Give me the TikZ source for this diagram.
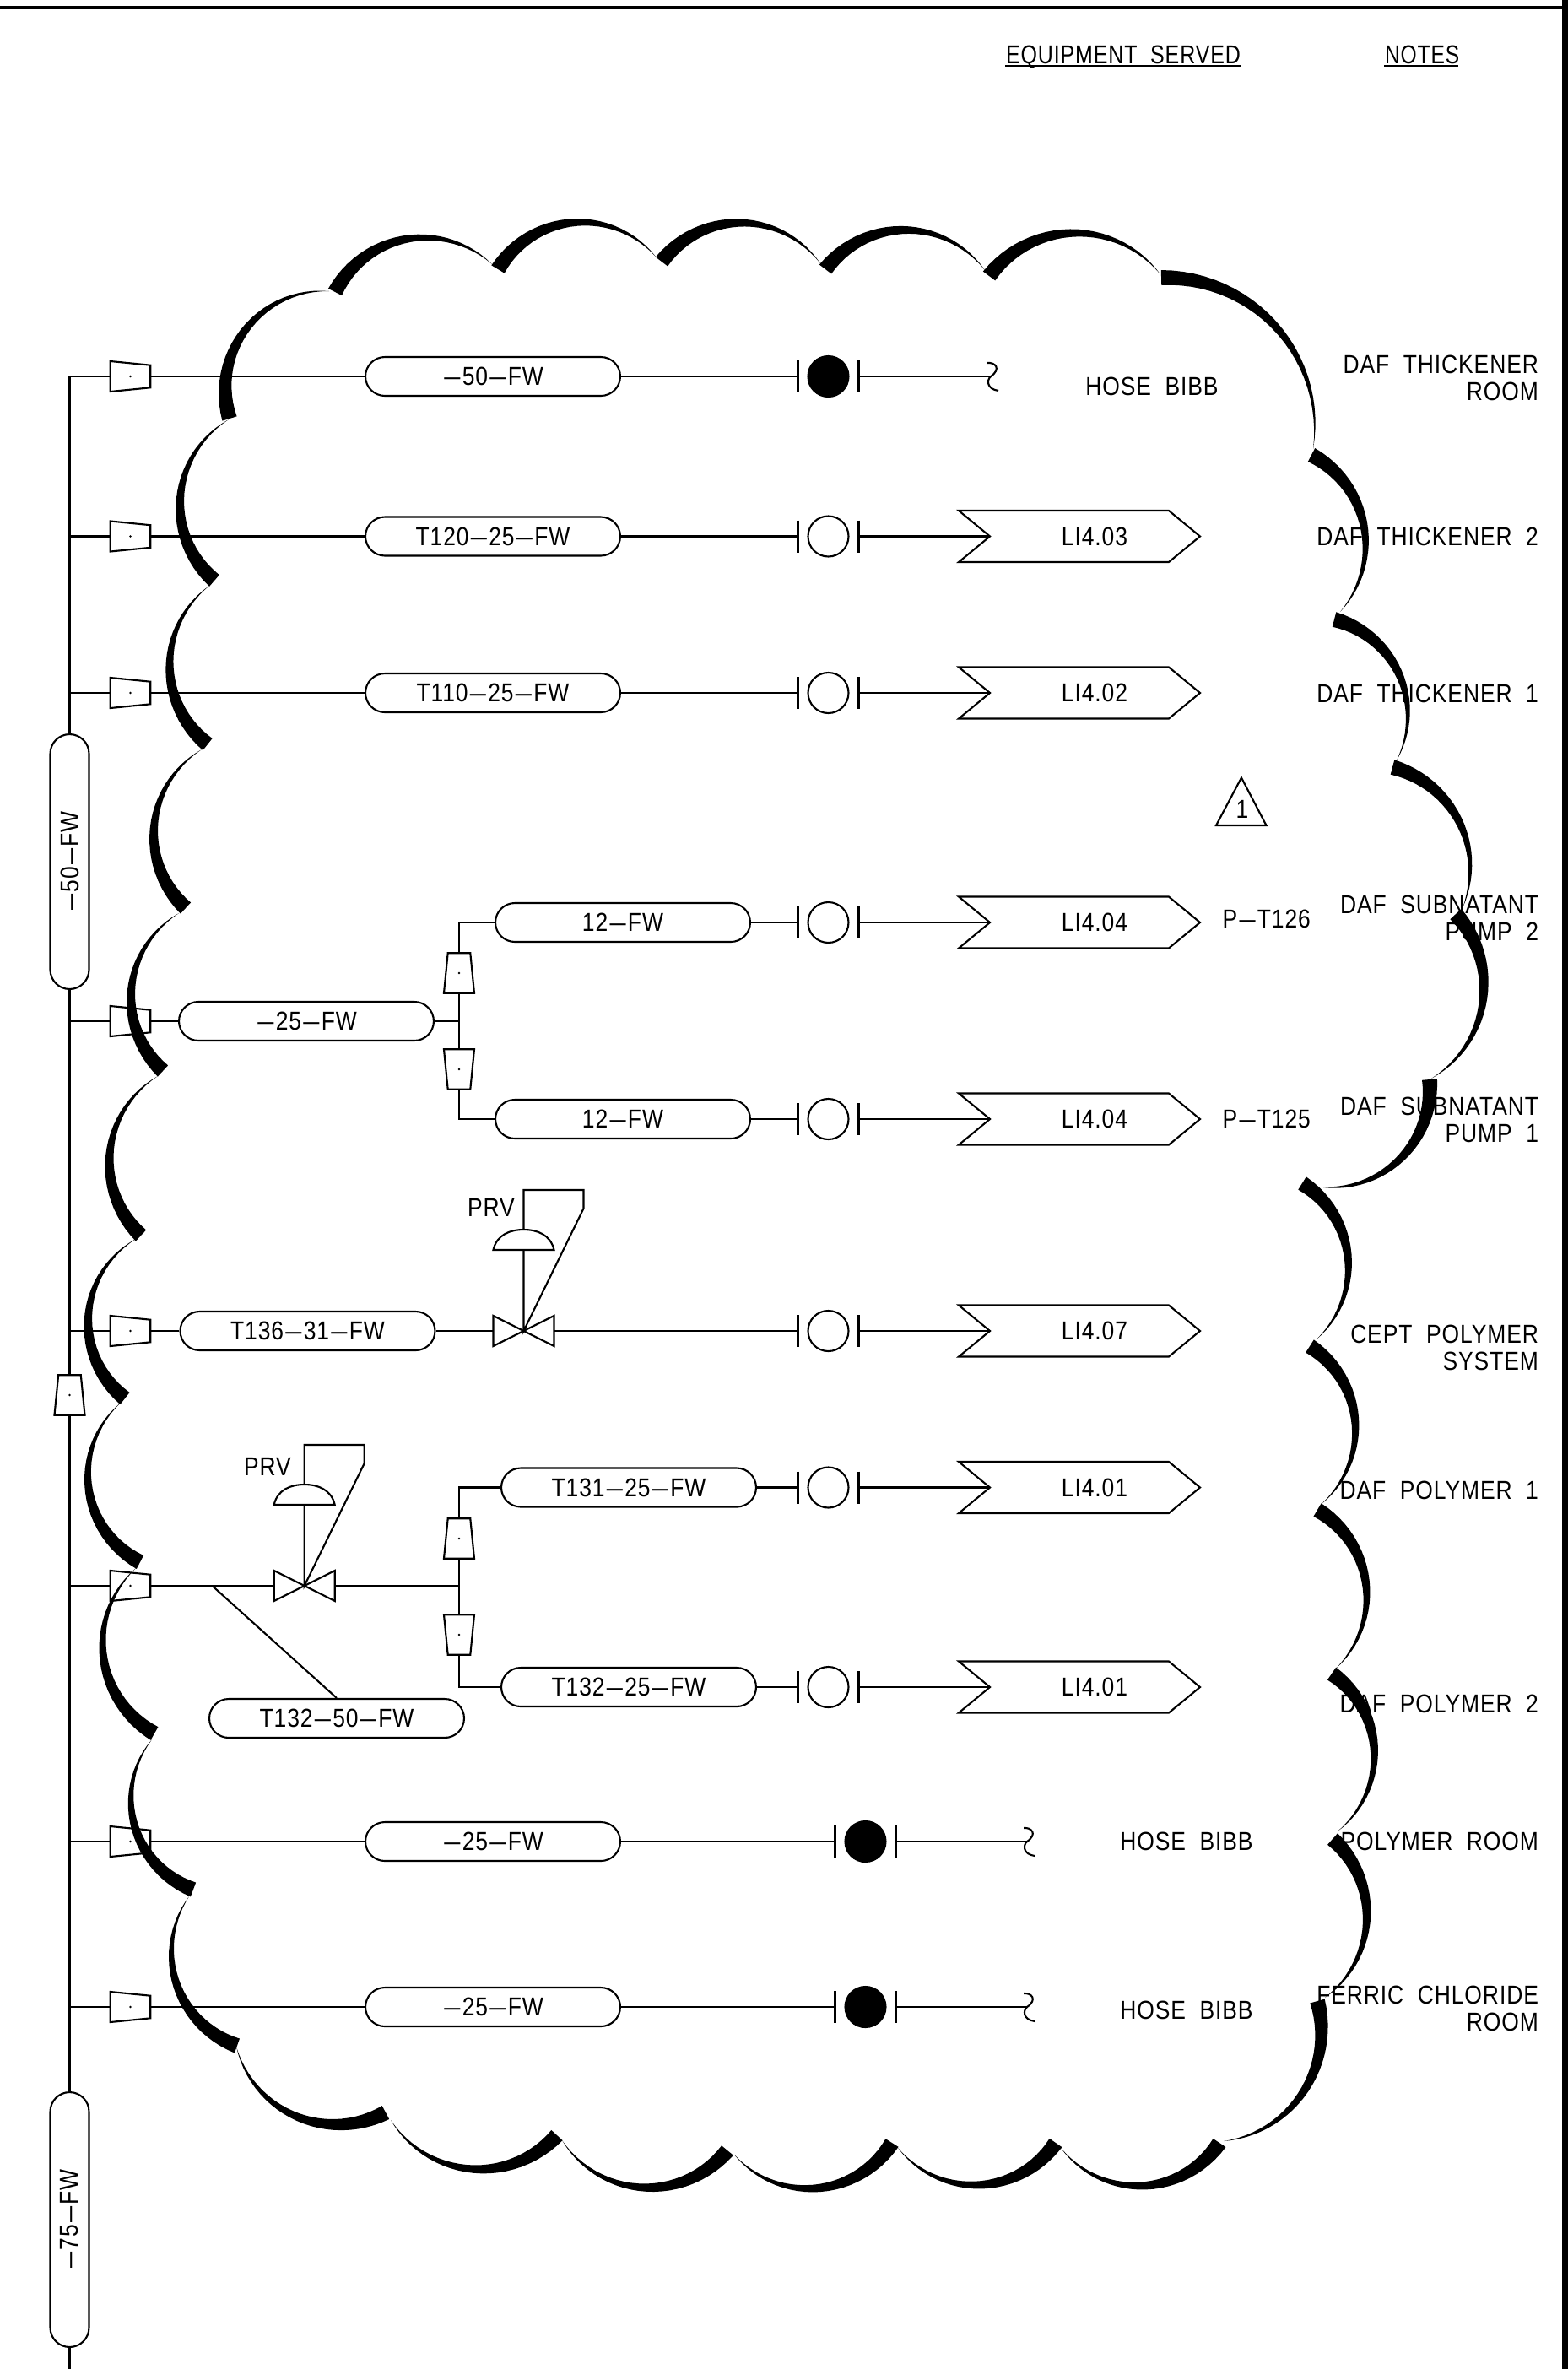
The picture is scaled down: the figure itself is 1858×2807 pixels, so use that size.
\documentclass[tikz,border=0pt]{standalone}
\usepackage{fontspec}
\setmainfont[FakeStretch=0.86,LetterSpace=3,WordSpace=2]{Liberation Sans}
\usetikzlibrary{shapes.misc,shapes.geometric,shapes.symbols,backgrounds,calc}
\newcommand\dd{\kern1.3pt\scalebox{1.3}[1]{–}\kern1.3pt}
\newcommand\cloudarc[5]{%
  \pgfmathsetmacro\cdx{#3-#1}\pgfmathsetmacro\cdy{#4-#2}%
  \pgfmathsetmacro\cL{veclen(\cdx,\cdy)}%
  \pgfmathsetmacro\cR{\cL/(2*#5)*(\cL/4)+#5/2}%
  \pgfmathsetmacro\cX{(#1+#3)/2+\cdy/\cL*(#5-\cR)}%
  \pgfmathsetmacro\cY{(#2+#4)/2-\cdx/\cL*(#5-\cR)}%
  \pgfmathsetmacro\cA{atan2(#2-\cY,#1-\cX)}%
  \pgfmathsetmacro\cB{atan2(#4-\cY,#3-\cX)}%
  \pgfmathsetmacro\cB{\cB<\cA ? \cB+360 : \cB}%
  \fill[black] plot[domain=0:1,samples=26,variable=\t]
      ({\cX+(\cR+9*(1-\t))*cos(\cA+\t*(\cB-\cA))},{\cY+(\cR+9*(1-\t))*sin(\cA+\t*(\cB-\cA))})
    -- plot[domain=1:0,samples=26,variable=\t]
      ({\cX+(\cR-9*(1-\t))*cos(\cA+\t*(\cB-\cA))},{\cY+(\cR-9*(1-\t))*sin(\cA+\t*(\cB-\cA))})
    -- cycle;%
}
% id, x, y, rotation
\newcommand\reducer[4]{%
  \node[reducerbox,rotate=#4] (#1) at (#2,#3) {\hspace*{1pt}\rule{0pt}{1pt}};
  \fill (#1.center) circle (1.3);
}
% id, cx, y, style
\newcommand\gauge[4]{%
  \node[#4] (#1) at (#2,#3) {};
  \coordinate (#1L) at (#2-36,#3);
  \coordinate (#1R) at (#2+36,#3);
  \draw (#2-36,#3-19) -- (#2-36,#3+19);
  \draw (#2+36,#3-19) -- (#2+36,#3+19);
}
% id, y, text
\newcommand\chevron[3]{%
  \node[chevronbox] (#1) at (1279,#2) {};
  \node[lbl] (#1t) at (1297,#2) {#3};
  \coordinate (#1n) at (1174,#2);
}
% free end name
\newcommand\squiggle[1]{%
  \draw ($(#1)+(-4,-16)$) .. controls ($(#1)+(5,-17)$) and ($(#1)+(13,-9)$) .. (#1)
     .. controls ($(#1)+(-5,4)$) and ($(#1)+(-5,15)$) .. ($(#1)+(9,17)$);
}
% id, valve cx, y
\newcommand\prv[3]{%
  \coordinate (#1) at (#2,#3);
  \coordinate (#1L) at (#2-36,#3);
  \coordinate (#1R) at (#2+36,#3);
  \draw[fill=white] (#1) -- (#2-36,#3-18) -- (#2-36,#3+18) -- cycle;
  \draw[fill=white] (#1) -- (#2+36,#3-18) -- (#2+36,#3+18) -- cycle;
  \draw (#1) -- (#2,#3-167) -- (#2+71,#3-167) -- (#2+71,#3-145) -- cycle;
  \draw[fill=white] (#2-36,#3-96) .. controls (#2-32,#3-114) and (#2-16,#3-120) .. (#2,#3-120)
     .. controls (#2+16,#3-120) and (#2+32,#3-114) .. (#2+36,#3-96) -- cycle;
}
\tikzset{
  lbl/.style={inner sep=0pt,font=\fontsize{17.5}{20}\selectfont},
  bubble/.style={draw,fill=white,rounded rectangle,inner sep=0pt,minimum width=6.04cm,minimum height=.92cm,font=\fontsize{17.5}{20}\selectfont},
  reducerbox/.style={draw,fill=white,trapezium,trapezium stretches=true,trapezium left angle=80,trapezium right angle=80,inner sep=0pt,minimum width=.72cm,minimum height=.95cm},
  chevronbox/.style={draw,fill=white,signal,signal from=west,signal to=east,signal pointer angle=79,inner sep=0pt,minimum width=5.72cm,minimum height=1.22cm},
  opencirc/.style={draw,fill=white,circle,inner sep=0pt,minimum size=.96cm},
  solidcirc/.style={draw,fill=black,circle,inner sep=0pt,minimum size=.96cm},
}
\begin{document}
\begin{tikzpicture}[x=0.02cm,y=-0.02cm,line width=1.2pt,line join=miter]
\useasboundingbox (0,0) rectangle (1858,2807);
% frame
\fill (0,6.5) rectangle (1858,10.5);
\fill (1851,0) rectangle (1858,2807);
% headings
\node[lbl,anchor=base west] (h1) at (1191,75) {\scalebox{.945}[1]{EQUIPMENT SERVED}};
\node[lbl,anchor=base west] (h2) at (1640,75) {\scalebox{.93}[1]{NOTES}};
\coordinate (h1a) at (1191,78); \coordinate (h1b) at (1470,78);
\coordinate (h2a) at (1640,78); \coordinate (h2b) at (1728,78);
\draw (h1a) -- (h1b); \draw (h2a) -- (h2b);
% main vertical bubbles
\node[bubble,rotate=90] (m50) at (82.5,1021) {\dd 50\dd FW};
\node[bubble,rotate=90] (m75) at (82.5,2630) {\dd 75\dd FW};
\coordinate (mtop) at (82.5,446);
\coordinate (mbot) at (82.5,2807);
\reducer{mr}{82.5}{1653}{0}
% row nodes
\coordinate (j1) at (82.5,446);
\coordinate (j2) at (82.5,635.5);
\coordinate (j3) at (82.5,821);
\coordinate (j4) at (82.5,1210);
\coordinate (j5) at (82.5,1577);
\coordinate (j6) at (82.5,1879);
\coordinate (j7) at (82.5,2182);
\coordinate (j8) at (82.5,2378);
\reducer{r1}{154.5}{446}{-90}
\reducer{r2}{154.5}{635.5}{-90}
\reducer{r3}{154.5}{821}{-90}
\reducer{r4}{154.5}{1210}{-90}
\reducer{r5}{154.5}{1577}{-90}
\reducer{r6}{154.5}{1879}{-90}
\reducer{r7}{154.5}{2182}{-90}
\reducer{r8}{154.5}{2378}{-90}
\node[bubble] (b1) at (584,446) {\dd 50\dd FW};
\node[bubble] (b2) at (584,635.5) {T120\dd 25\dd FW};
\node[bubble] (b3) at (584,821) {T110\dd 25\dd FW};
\node[bubble] (b4) at (363,1210) {\dd 25\dd FW};
\node[bubble] (b41) at (738,1093) {12\dd FW};
\node[bubble] (b42) at (738,1326) {12\dd FW};
\node[bubble] (b5) at (364.5,1577) {T136\dd 31\dd FW};
\node[bubble] (b61) at (745,1762.5) {T131\dd 25\dd FW};
\node[bubble] (b62) at (745,1999) {T132\dd 25\dd FW};
\node[bubble] (b63) at (399,2036) {T132\dd 50\dd FW};
\node[bubble] (b7) at (584,2182) {\dd 25\dd FW};
\node[bubble] (b8) at (584,2378) {\dd 25\dd FW};
% branch reducers
\coordinate (k4) at (544,1210);
\coordinate (k41) at (544,1093);
\coordinate (k42) at (544,1326);
\reducer{r41}{544}{1153}{0}
\reducer{r42}{544}{1267}{180}
\coordinate (k6) at (544,1879);
\coordinate (k61) at (544,1762.5);
\coordinate (k62) at (544,1999);
\coordinate (d6) at (251.5,1879);
\reducer{r61}{544}{1823}{0}
\reducer{r62}{544}{1937}{180}
% valves
\prv{v5}{620.5}{1577}
\prv{v6}{360.7}{1879}
\node[lbl,anchor=base west] (p5) at (553,1441) {PRV};
\node[lbl,anchor=base west] (p6) at (288,1748) {PRV};
% gauges
\gauge{g1}{981.5}{446}{solidcirc}
\gauge{g2}{981.5}{635.5}{opencirc}
\gauge{g3}{981.5}{821}{opencirc}
\gauge{g41}{981.5}{1093}{opencirc}
\gauge{g42}{981.5}{1326}{opencirc}
\gauge{g5}{981.5}{1577}{opencirc}
\gauge{g61}{981.5}{1762.5}{opencirc}
\gauge{g62}{981.5}{1999}{opencirc}
\gauge{g7}{1025.5}{2182}{solidcirc}
\gauge{g8}{1025.5}{2378}{solidcirc}
% chevrons
\chevron{c2}{635.5}{LI4.03}
\chevron{c3}{821}{LI4.02}
\chevron{c41}{1093}{LI4.04}
\chevron{c42}{1326}{LI4.04}
\chevron{c5}{1577}{LI4.07}
\chevron{c61}{1762.5}{LI4.01}
\chevron{c62}{1999}{LI4.01}
% hose ends
\coordinate (s1) at (1174,446);
\coordinate (s7) at (1217,2182);
\coordinate (s8) at (1217,2378);
\squiggle{s1}
\squiggle{s7}
\squiggle{s8}
% pipes
\begin{scope}[on background layer]
\begin{scope}[line width=1.2pt]
\draw (mtop) -- (m50.east);
\draw (m50.west) -- (m75.east);
\draw (m75.west) -- (mbot);
\draw (j1) -- (b1.west);
\draw (j2) -- (b2.west);
\draw (j3) -- (b3.west);
\draw (j4) -- (b4.west);
\draw (j5) -- (b5.west);
\draw (j6) -- (v6L);
\draw (j7) -- (b7.west);
\draw (j8) -- (b8.west);
\draw (b1.east) -- (g1L); \draw (g1R) -- (s1);
\draw (b2.east) -- (g2L); \draw (g2R) -- (c2n);
\draw (b3.east) -- (g3L); \draw (g3R) -- (c3n);
\draw (b4.east) -- (k4);
\draw (b41.west) -- (k41) -- (k42) -- (b42.west);
\draw (b41.east) -- (g41L); \draw (g41R) -- (c41n);
\draw (b42.east) -- (g42L); \draw (g42R) -- (c42n);
\draw (b5.east) -- (v5L);
\draw (v5R) -- (g5L); \draw (g5R) -- (c5n);
\draw (v6R) -- (k6);
\draw (b61.west) -- (k61) -- (k62) -- (b62.west);
\draw (b61.east) -- (g61L); \draw (g61R) -- (c61n);
\draw (b62.east) -- (g62L); \draw (g62R) -- (c62n);
\draw (d6) -- (b63.north);
\draw (b7.east) -- (g7L); \draw (g7R) -- (s7);
\draw (b8.east) -- (g8L); \draw (g8R) -- (s8);
\end{scope}
\end{scope}
% revision triangle
\node[lbl] (tri1) at (1472,959) {1};
\coordinate (ta) at (1471,921.5); \coordinate (tb) at (1500.5,978); \coordinate (tc) at (1441,978);
\draw (ta) -- (tb) -- (tc) -- cycle;
% texts
\node[lbl] (t1) at (1365,458) {HOSE BIBB};
\node[lbl] (t7) at (1406,2182) {HOSE BIBB};
\node[lbl] (t8) at (1406,2382) {HOSE BIBB};
\node[lbl,anchor=base east] (pt6) at (1554,1099.5) {P\dd T126};
\node[lbl,anchor=base east] (pt5) at (1554,1336) {P\dd T125};
\node[lbl,anchor=base east] (e1a) at (1824,442) {DAF THICKENER};
\node[lbl,anchor=base east] (e1b) at (1824,474.5) {ROOM};
\node[lbl,anchor=base east] (e2) at (1824,646.5) {DAF THICKENER 2};
\node[lbl,anchor=base east] (e3) at (1824,832) {DAF THICKENER 1};
\node[lbl,anchor=base east] (e4a) at (1824,1082) {DAF SUBNATANT};
\node[lbl,anchor=base east] (e4b) at (1824,1114.5) {PUMP 2};
\node[lbl,anchor=base east] (e5a) at (1824,1321) {DAF SUBNATANT};
\node[lbl,anchor=base east] (e5b) at (1824,1353.5) {PUMP 1};
\node[lbl,anchor=base east] (e6a) at (1824,1591) {CEPT POLYMER};
\node[lbl,anchor=base east] (e6b) at (1824,1623) {SYSTEM};
\node[lbl,anchor=base east] (e7) at (1824,1776) {DAF POLYMER 1};
\node[lbl,anchor=base east] (e8) at (1824,2029) {DAF POLYMER 2};
\node[lbl,anchor=base east] (e9) at (1824,2192) {POLYMER ROOM};
\node[lbl,anchor=base east] (e10a) at (1824,2374) {FERRIC CHLORIDE};
\node[lbl,anchor=base east] (e10b) at (1824,2406) {ROOM};
% cloud
\cloudarc{397}{346}{583}{313}{47}
\cloudarc{590}{319}{777}{304}{48}
\cloudarc{784}{310}{972}{312}{47}
\cloudarc{978}{319}{1167}{320}{47}
\cloudarc{1172}{327}{1375}{325}{50}
\cloudarc{1376}{329}{1556}{532}{63}
\cloudarc{1554}{539}{1588}{725}{46}
\cloudarc{1581}{734}{1655}{901}{44}
\cloudarc{1650}{909}{1733}{1076}{42}
\cloudarc{1725}{1083}{1696}{1278}{47}
\cloudarc{1694}{1279}{1561}{1406}{44}
\cloudarc{1543}{1402}{1560}{1587}{46}
\cloudarc{1552}{1595}{1566}{1782}{47}
\cloudarc{1561}{1789}{1583}{1977}{47}
\cloudarc{1578}{1983}{1585}{2170}{47}
\cloudarc{1579}{2179}{1570}{2367}{45}
\cloudarc{1561}{2371}{1450}{2537}{46}
\cloudarc{1445}{2539}{1257}{2545}{48}
\cloudarc{1251}{2539}{1064}{2545}{47}
\cloudarc{1057}{2539}{870}{2553}{47}
\cloudarc{862}{2548}{666}{2536}{50}
\cloudarc{660}{2530}{463}{2512}{49}
\cloudarc{457}{2503}{280}{2425}{47}
\cloudarc{281}{2424}{224}{2247}{46}
\cloudarc{229}{2239}{180}{2061}{47}
\cloudarc{183}{2054}{161}{1858}{50}
\cloudarc{166}{1851}{143}{1662}{50}
\cloudarc{148}{1657}{161}{1468}{50}
\cloudarc{167}{1464}{187}{1275}{47}
\cloudarc{193}{1269}{212}{1082}{47}
\cloudarc{220}{1076}{239}{888}{47}
\cloudarc{246}{882}{248}{694}{46}
\cloudarc{254}{688}{271}{497}{49}
\cloudarc{272}{496}{390}{345}{50}
\end{tikzpicture}
\end{document}
